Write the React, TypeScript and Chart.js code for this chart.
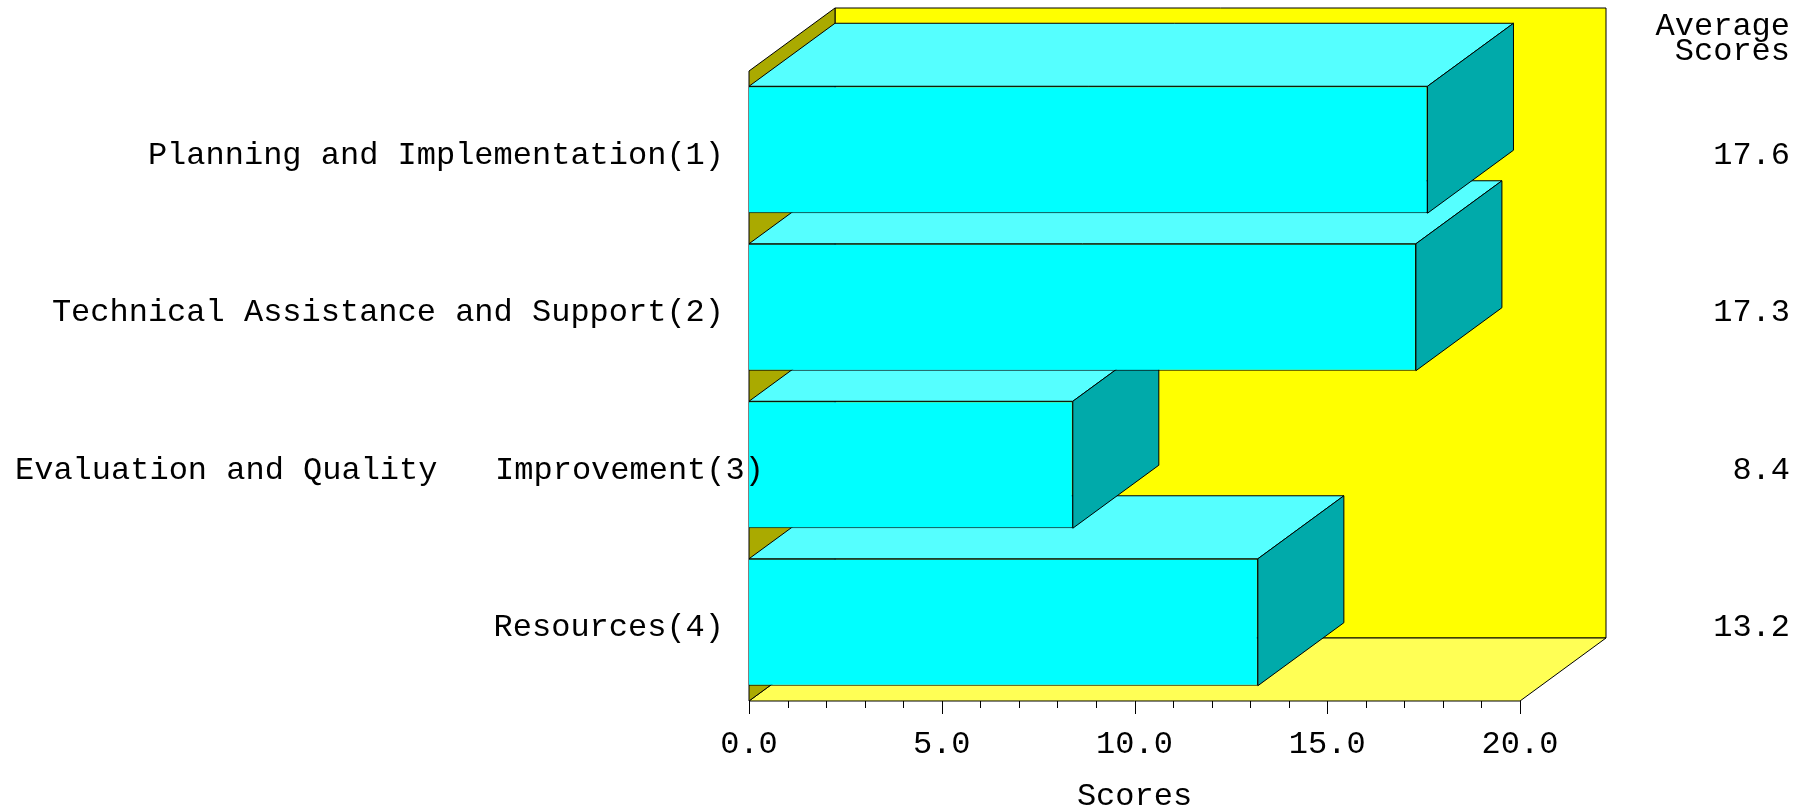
import React, { useEffect, useRef } from "react";
import { Chart, registerables } from "chart.js";

Chart.register(...registerables);

const categories = [
  "Planning and Implementation(1)",
  "Technical Assistance and Support(2)",
  "Evaluation and Quality   Improvement(3)",
  "Resources(4)",
];
const scores = [17.6, 17.3, 8.4, 13.2];
const headerLines = ["Average", "Scores"];
const axisTitle = "Scores";

const FONT = '"Liberation Mono", monospace';
const FONT_SIZE = 32;
const DX = 86;
const DY = 63;

function poly(ctx: CanvasRenderingContext2D, pts: number[][], fill: string) {
  ctx.beginPath();
  pts.forEach((p, i) => (i ? ctx.lineTo(p[0], p[1]) : ctx.moveTo(p[0], p[1])));
  ctx.closePath();
  ctx.fillStyle = fill;
  ctx.fill();
  ctx.lineWidth = 1;
  ctx.strokeStyle = "#000000";
  ctx.stroke();
}

const scene3d = {
  id: "scene3d",
  beforeDatasetsDraw(chart: any) {
    const { ctx, scales } = chart;
    const { left, right } = scales.x;
    const t = scales.y.top;
    const b = scales.y.bottom;
    poly(ctx, [[left + DX, t - DY], [right + DX, t - DY], [right + DX, b - DY], [left + DX, b - DY]], "#ffff00");
    poly(ctx, [[left, b], [right, b], [right + DX, b - DY], [left + DX, b - DY]], "#ffff55");
    poly(ctx, [[left, t], [left + DX, t - DY], [left + DX, b - DY], [left, b]], "#aaaa00");
  },
  beforeDatasetDraw(chart: any, args: any) {
    const { ctx } = chart;
    const els = args.meta.data;
    for (let i = els.length - 1; i >= 0; i--) {
      const el = els[i];
      const { x, y, base, height } = el.getProps(["x", "y", "base", "height"], true);
      const y0 = y - height / 2;
      const y1 = y + height / 2;
      poly(ctx, [[base, y0], [base + DX, y0 - DY], [x + DX, y0 - DY], [x, y0]], "#55ffff");
      poly(ctx, [[x, y0], [x + DX, y0 - DY], [x + DX, y1 - DY], [x, y1]], "#00aaaa");
      el.draw(ctx);
    }
    return false;
  },
  afterDraw(chart: any) {
    const { ctx, scales } = chart;
    const xs = scales.x;
    const ys = scales.y;
    ctx.save();
    ctx.strokeStyle = "#000000";
    ctx.lineWidth = 1;
    xs.ticks.forEach((tk: any) => {
      const px = Math.round(xs.getPixelForValue(tk.value)) + 0.5;
      const len = tk.value % 5 === 0 ? 13 : 7;
      ctx.beginPath();
      ctx.moveTo(px, ys.bottom);
      ctx.lineTo(px, ys.bottom + len);
      ctx.stroke();
    });
    ctx.fillStyle = "#000000";
    ctx.font = `${FONT_SIZE}px ${FONT}`;
    ctx.textBaseline = "alphabetic";
    categories.forEach((c, i) => {
      const cy = ys.getPixelForValue(i) + 14;
      if (c.length > 35) {
        ctx.textAlign = "left";
        ctx.fillText(c, 15, cy);
      } else {
        ctx.textAlign = "right";
        ctx.fillText(c, xs.left - 25, cy);
      }
      ctx.textAlign = "right";
      ctx.fillText(scores[i].toFixed(1), 1790, cy);
    });
    ctx.textAlign = "right";
    headerLines.forEach((h, i) => ctx.fillText(h, 1790, 35 + i * 25));
    ctx.restore();
  },
};

export default function App() {
  const ref = useRef<HTMLCanvasElement>(null);
  useEffect(() => {
    const chart = new Chart(ref.current as HTMLCanvasElement, {
      type: "bar",
      data: {
        labels: categories,
        datasets: [
          {
            data: scores,
            backgroundColor: "#00ffff",
            borderColor: "#000000",
            borderWidth: 1,
            barPercentage: 0.806,
            categoryPercentage: 1,
          },
        ],
      },
      options: {
        indexAxis: "y",
        responsive: false,
        animation: false,
        devicePixelRatio: 1,
        layout: { padding: { left: 0, top: 71, right: 293, bottom: 0 } },
        plugins: { legend: { display: false }, tooltip: { enabled: false } },
        scales: {
          x: {
            min: 0,
            max: 20,
            grid: { display: false },
            border: { display: false },
            afterFit: (s: any) => { s.height = 107; },
            title: {
              display: true,
              text: axisTitle,
              color: "#000000",
              font: { family: FONT, size: FONT_SIZE, lineHeight: 1 },
              padding: { top: 0, bottom: -5 },
            },
            ticks: {
              stepSize: 1,
              autoSkip: false,
              maxRotation: 0,
              color: "#000000",
              padding: 16,
              font: { family: FONT, size: FONT_SIZE },
              callback: (v: any) => (Number(v) % 5 === 0 ? Number(v).toFixed(1) : ""),
            },
          },
          y: {
            grid: { display: false },
            border: { display: false },
            ticks: { display: false },
            afterFit: (s: any) => { s.width = 749; },
          },
        },
      } as any,
      plugins: [scene3d as any],
    });
    return () => chart.destroy();
  }, []);
  return (
    <canvas
      ref={ref}
      width={1813}
      height={808}
      style={{ position: "absolute", left: 0, top: 0, width: 1813, height: 808 }}
    />
  );
}
